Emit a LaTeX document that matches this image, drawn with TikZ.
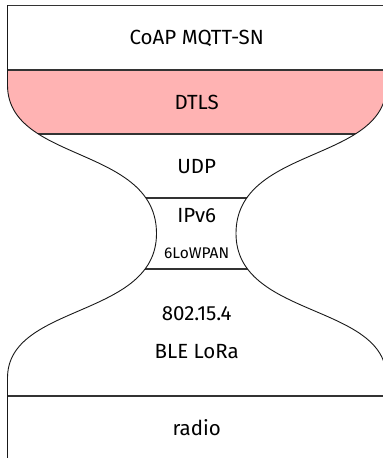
\documentclass[tikz,border=0pt]{standalone}
\usepackage{fontspec}
\setmainfont{Fira Sans}
\definecolor{dtlspink}{RGB}{255,179,179}
\tikzset{
  outline/.style={insert path={
    (7.5,470) -- (7.5,373)
    .. controls (7.5,295) and (156.5,312.5) .. (156.5,224.5)
    .. controls (156.5,139.5) and (7.5,155) .. (7.5,80)
    -- (7.5,-10) -- (386.5,-10) -- (386.5,80)
    .. controls (386.5,155) and (236,139.5) .. (236,224.5)
    .. controls (236,312.5) and (386.5,295) .. (386.5,373)
    -- (386.5,470) -- cycle}},
  layerline/.style={line width=1.2pt, draw=black!80},
  hourglass/.style={line width=0.9pt, draw=black!90, line join=miter},
  layertext/.style={font=\fontsize{20.5}{23}\selectfont, anchor=base, inner sep=0pt},
  smalltext/.style={font=\fontsize{15.5}{18}\selectfont, anchor=base, inner sep=0pt}
}
\begin{document}
\begin{tikzpicture}[x=1pt,y=1pt]
\useasboundingbox (0,0) rectangle (383,458);

% DTLS band, filled inside the hourglass only
\begin{scope}
  \clip[outline];
  \clip (0,324) rectangle (400,388);
  \fill[dtlspink] (0,0) rectangle (400,460);
\end{scope}

% layer separators, cut off by the hourglass outline
\begin{scope}
  \clip[outline];
  \foreach \y in {388,324,260,189,62}
    \draw[layerline] (0,\y) -- (400,\y);
\end{scope}

% the hourglass outline: left side, top, right side
\draw[hourglass]
  (7.5,-5) -- (7.5,80)
  .. controls (7.5,155) and (156.5,139.5) .. (156.5,224.5)
  .. controls (156.5,312.5) and (7.5,295) .. (7.5,373)
  -- (7.5,452.5) -- (386.5,452.5) -- (386.5,373)
  .. controls (386.5,295) and (236,312.5) .. (236,224.5)
  .. controls (236,139.5) and (386.5,155) .. (386.5,80)
  -- (386.5,-5);
\draw[layerline] (7.5,452.5) -- (386.5,452.5);

% layer names
\node[layertext] (app)   at (196.7,413.7) {CoAP MQTT-SN};
\node[layertext] (dtls)  at (196.7,348.7) {DTLS};
\node[layertext] (udp)   at (196.7,284)   {UDP};
\node[layertext] (ipv6)  at (196.7,235.7) {IPv6};
\node[smalltext] (lowpan) at (196.7,199.7) {6LoWPAN};
\node[layertext] (mac)   at (196.7,137.3) {802.15.4};
\node[layertext] (links) at (196.7,99.7)  {BLE LoRa};
\node[layertext] (radio) at (196.7,22)    {radio};
\end{tikzpicture}
\end{document}
